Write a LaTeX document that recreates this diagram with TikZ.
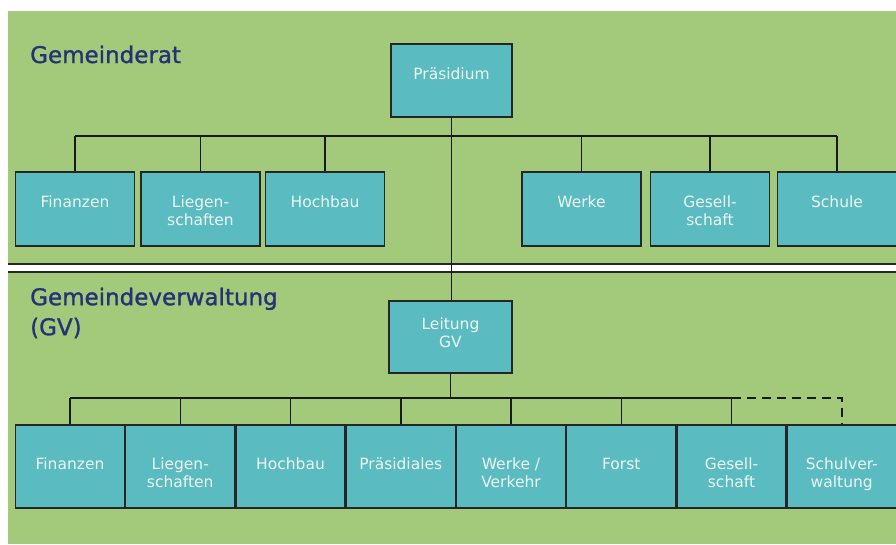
\documentclass[tikz,border=0pt]{standalone}
\usepackage{fontspec}
\setmainfont{DejaVu Sans}
\newfontfamily\titlefont[FakeBold=1.2]{DejaVu Sans}
\definecolor{bggreen}{HTML}{A2CA7A}
\definecolor{boxteal}{HTML}{5ABCC0}
\definecolor{boxtext}{HTML}{EEF6F4}
\definecolor{titleblue}{HTML}{263176}
\begin{document}
\begin{tikzpicture}[x=1pt,y=-1pt,
  orgbox/.style={draw=black!85,line width=1.4pt,fill=boxteal,inner sep=0pt,minimum height=#1},
  topbox/.style={orgbox=74pt,minimum width=119pt},
  lowbox/.style={orgbox=83pt,minimum width=109pt},
  lbl/.style={text=boxtext,font=\fontsize{15.5}{18}\selectfont,align=center,inner sep=0pt,anchor=north},
  conn/.style={draw=black!90,line width=1.5pt},
  dconn/.style={draw=black!90,line width=2.2pt,dash pattern=on 9pt off 6pt},
  sectitle/.style={text=titleblue,font=\titlefont\fontsize{23}{30}\selectfont,inner sep=0pt,align=left}
]
\useasboundingbox (0,0) rectangle (896,544);
% backgrounds
\fill[bggreen] (8,11) rectangle (896,264);
\fill[bggreen] (8,272) rectangle (896,544);
\draw[black!85,line width=1.2pt] (8,264) -- (896,264);
\draw[black!85,line width=1.2pt] (8,272) -- (896,272);
% titles
\node[sectitle,anchor=base west] (t1) at (30,63) {Gemeinderat};
\node[sectitle,anchor=north west] (t2) at (30,287.5) {Gemeindeverwaltung\\(GV)};
% top level
\node[orgbox=73pt,minimum width=121pt,label={[lbl,yshift=-24.4pt]north:Präsidium}] (pr) at (451.5,80.5) {};
\node[orgbox=72pt,minimum width=123pt,label={[lbl,yshift=-17.4pt]north:Leitung\\GV}] (lg) at (450.5,337) {};
% Gemeinderat row
\node[topbox,label={[lbl,yshift=-24.4pt]north:Finanzen}] (tF) at (75,209) {};
\node[topbox,label={[lbl,yshift=-24.4pt]north:Liegen-\\schaften}] (tL) at (200.5,209) {};
\node[topbox,label={[lbl,yshift=-24.4pt]north:Hochbau}] (tH) at (325,209) {};
\node[topbox,label={[lbl,yshift=-24.4pt]north:Werke}] (tW) at (581.5,209) {};
\node[topbox,label={[lbl,yshift=-24.4pt]north:Gesell-\\schaft}] (tG) at (710,209) {};
\node[topbox,label={[lbl,yshift=-24.4pt]north:Schule}] (tS) at (837,209) {};
% Gemeindeverwaltung row
\node[lowbox,label={[lbl,yshift=-33.4pt]north:Finanzen}] (lF) at (70,466.5) {};
\node[lowbox,label={[lbl,yshift=-33.4pt]north:Liegen-\\schaften}] (lL) at (180.25,466.5) {};
\node[lowbox,label={[lbl,yshift=-33.4pt]north:Hochbau}] (lH) at (290.5,466.5) {};
\node[lowbox,label={[lbl,yshift=-33.4pt]north:Präsidiales}] (lP) at (400.75,466.5) {};
\node[lowbox,label={[lbl,yshift=-33.4pt]north:Werke /\\Verkehr}] (lW) at (511,466.5) {};
\node[lowbox,label={[lbl,yshift=-33.4pt]north:Forst}] (lFo) at (621.25,466.5) {};
\node[lowbox,label={[lbl,yshift=-33.4pt]north:Gesell-\\schaft}] (lG) at (731.5,466.5) {};
\node[lowbox,label={[lbl,yshift=-33.4pt]north:Schulver-\\waltung}] (lS) at (841.75,466.5) {};
% connectors
\coordinate (bus1) at (0,136);
\coordinate (bus2) at (0,398);
\draw[conn] (pr.south) -- (pr.south |- lg.north);
\draw[conn] (tF.north |- bus1) -- (tS.north |- bus1);
\foreach \n in {tF,tL,tH,tW,tG,tS} \draw[conn] (\n.north) -- (\n.north |- bus1);
\draw[conn] (lg.south) -- (lg.south |- bus2);
\draw[conn] (lF.north |- bus2) -- (lG.north |- bus2);
\foreach \n in {lF,lL,lH,lP,lW,lFo,lG} \draw[conn] (\n.north) -- (\n.north |- bus2);
\draw[dconn] (lG.north |- bus2) -- (lS.north |- bus2) -- (lS.north);
\end{tikzpicture}
\end{document}
